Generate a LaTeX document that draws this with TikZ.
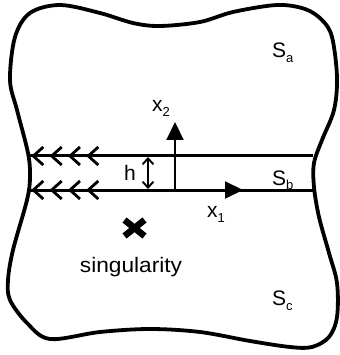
\documentclass[tikz,border=0pt]{standalone}
\usepackage{fontspec}
\setmainfont{Liberation Sans}
\usetikzlibrary{arrows.meta}
\newcommand\lsub[1]{\raisebox{-5pt}{\fontsize{13}{13}\selectfont #1}}
\begin{document}
\begin{tikzpicture}[x=1pt,y=-1pt,
  outline/.style={line width=3.8pt, line join=round},
  strip/.style={line width=3pt},
  chev/.style={line width=2.8pt, line join=miter},
  axis/.style={line width=2.1pt, -{Triangle[length=18pt,width=17pt]}},
  dim/.style={line width=1.9pt, {Straight Barb[length=6pt,width=11pt]}-{Straight Barb[length=6pt,width=11pt]}},
  lbl/.style={inner sep=0pt, anchor=base west, font=\fontsize{21}{21}\selectfont}]
\useasboundingbox (0,0) rectangle (339,355);
% outline of the body
\draw[outline] plot[smooth cycle, tension=0.55] coordinates {
 (60,5) (100,13) (133,23) (160,26) (200,22) (233,12) (277,5) (305,9) (322,20)
 (332,37) (337,77) (334,110) (322,140) (314,163) (314,187) (319,217) (329,253)
 (337,283) (337,317) (329,337) (312,347) (290,347) (250,341) (200,332) (150,329)
 (100,332) (50,339) (27,323) (10,300) (8,280) (13,250) (27,200) (30,177) (28,153)
 (17,110) (10,80) (15,37) (30,13)};
% strip
\coordinate (aL) at (30,156); \coordinate (aR) at (313,156);
\coordinate (bL) at (30,190); \coordinate (bR) at (313,190);
\draw[strip] (aL) -- (aR);
\draw[strip] (bL) -- (bR);
% chevrons
\foreach \t in {33.3,51.7,70,88.3} {
  \draw[chev] (\t+10,147) -- (\t,156) -- (\t+10,165);
  \draw[chev] (\t+10,181) -- (\t,190) -- (\t+10,199);
}
% axes
\coordinate (O) at (175,190);
\coordinate (x2tip) at (175,122);
\coordinate (x1tip) at (243,190);
\draw[axis] (O) -- (x2tip);
\draw[axis] (O) -- (x1tip);
% thickness h
\coordinate (hT) at (148,157);
\coordinate (hB) at (148,189);
\draw[dim] (hT) -- (hB);
% singularity
\draw[line width=6.5pt] (124.5,220) -- (144.5,236);
\draw[line width=6.5pt] (124.5,236) -- (144.5,220);
% labels
\node[lbl] (Sa) at (272,58) {S\lsub{a}};
\node[lbl] (Sb) at (272,185) {S\lsub{b}};
\node[lbl] (Sc) at (272,305) {S\lsub{c}};
\node[lbl] (x2) at (152,112) {x\lsub{2}};
\node[lbl] (x1) at (207,217) {x\lsub{1}};
\node[lbl] (h) at (124,180) {h};
\node[lbl, anchor=base] (sing) at (131,272) {\scalebox{1.08}[1]{singularity}};
\end{tikzpicture}
\end{document}
